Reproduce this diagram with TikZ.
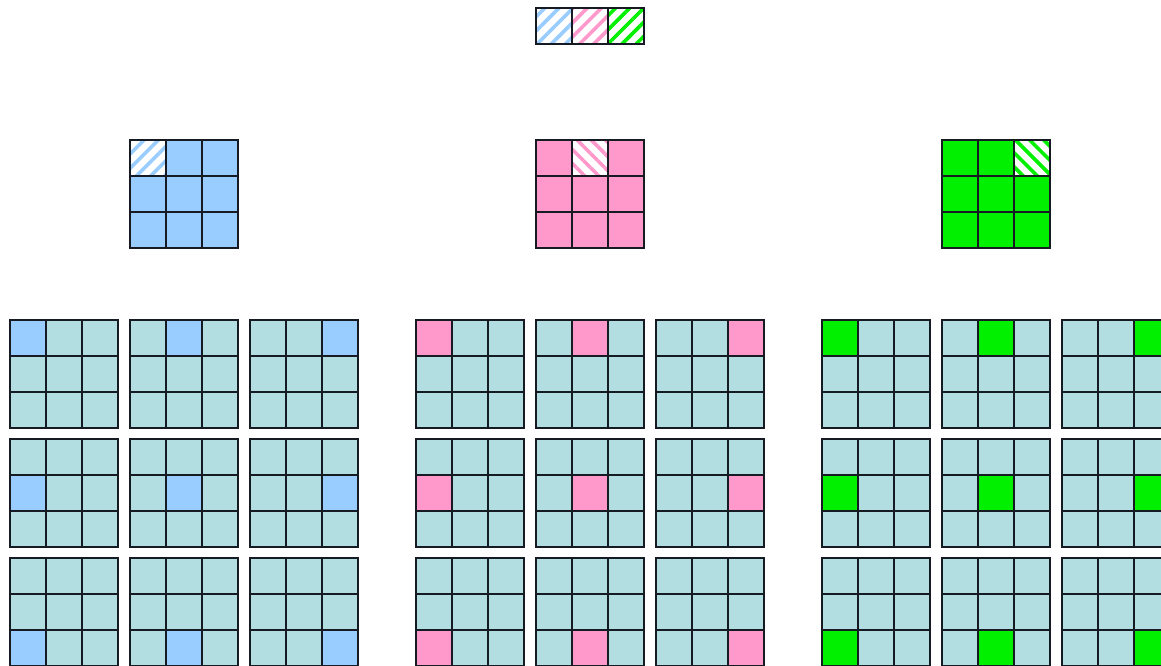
\documentclass[tikz,border=0pt]{standalone}
\usetikzlibrary{patterns.meta}
\definecolor{cBlue}{RGB}{153,204,255}
\definecolor{cPink}{RGB}{255,153,204}
\definecolor{cGreen}{RGB}{0,240,0}
\definecolor{cTeal}{RGB}{178,222,226}
\definecolor{cLine}{RGB}{22,26,34}
% hatched cell: x, y, colour, angle
\newcommand{\hatchcell}[4]{%
  \fill[white] (#1,#2) rectangle ++(36,36);
  \path[pattern={Lines[angle=#4,distance=10pt,line width=3.6pt]},pattern color=#3] (#1,#2) rectangle ++(36,36);}
% lines of a 3x3 block at x, y
\newcommand{\blocklines}[2]{%
  \foreach \k in {0,1,2,3}{
    \draw[cellline] (#1+36*\k,#2) -- (#1+36*\k,#2+108);
    \draw[cellline] (#1,#2+36*\k) -- (#1+108,#2+36*\k);}}

\begin{document}
\begin{tikzpicture}[x=1pt,y=-1pt,
  cellline/.style={draw=cLine,line width=1.7pt,line cap=rect}]
\clip (0,0) rectangle (1161,666);
\fill[white] (0,0) rectangle (1161,666);
% ---- top strip
\foreach \gc [count=\g from 0] in {cBlue,cPink,cGreen}{
  \hatchcell{536+36*\g}{8}{\gc}{45}
}
\draw[cellline] (536,8) rectangle (644,44);
\foreach \k in {1,2}{\draw[cellline] (536+36*\k,8) -- (536+36*\k,44);}
% ---- middle blocks
\foreach \gc/\ang [count=\g from 0] in {cBlue/45,cPink/-45,cGreen/-45}{
  \fill[\gc] (130+406*\g,140) rectangle ++(108,108);
  \hatchcell{130+406*\g+36*\g}{140}{\gc}{\ang}
  \blocklines{130+406*\g}{140}
}
% ---- bottom blocks
\foreach \gc [count=\g from 0] in {cBlue,cPink,cGreen}{
  \foreach \r in {0,1,2}{
    \foreach \c in {0,1,2}{
      \fill[cTeal] (10+406*\g+120*\c,320+119*\r) rectangle ++(108,108);
      \fill[\gc] (10+406*\g+120*\c+36*\c,320+119*\r+36*\r) rectangle ++(36,36);
      \blocklines{10+406*\g+120*\c}{320+119*\r}
    }
  }
}
\end{tikzpicture}
\end{document}
